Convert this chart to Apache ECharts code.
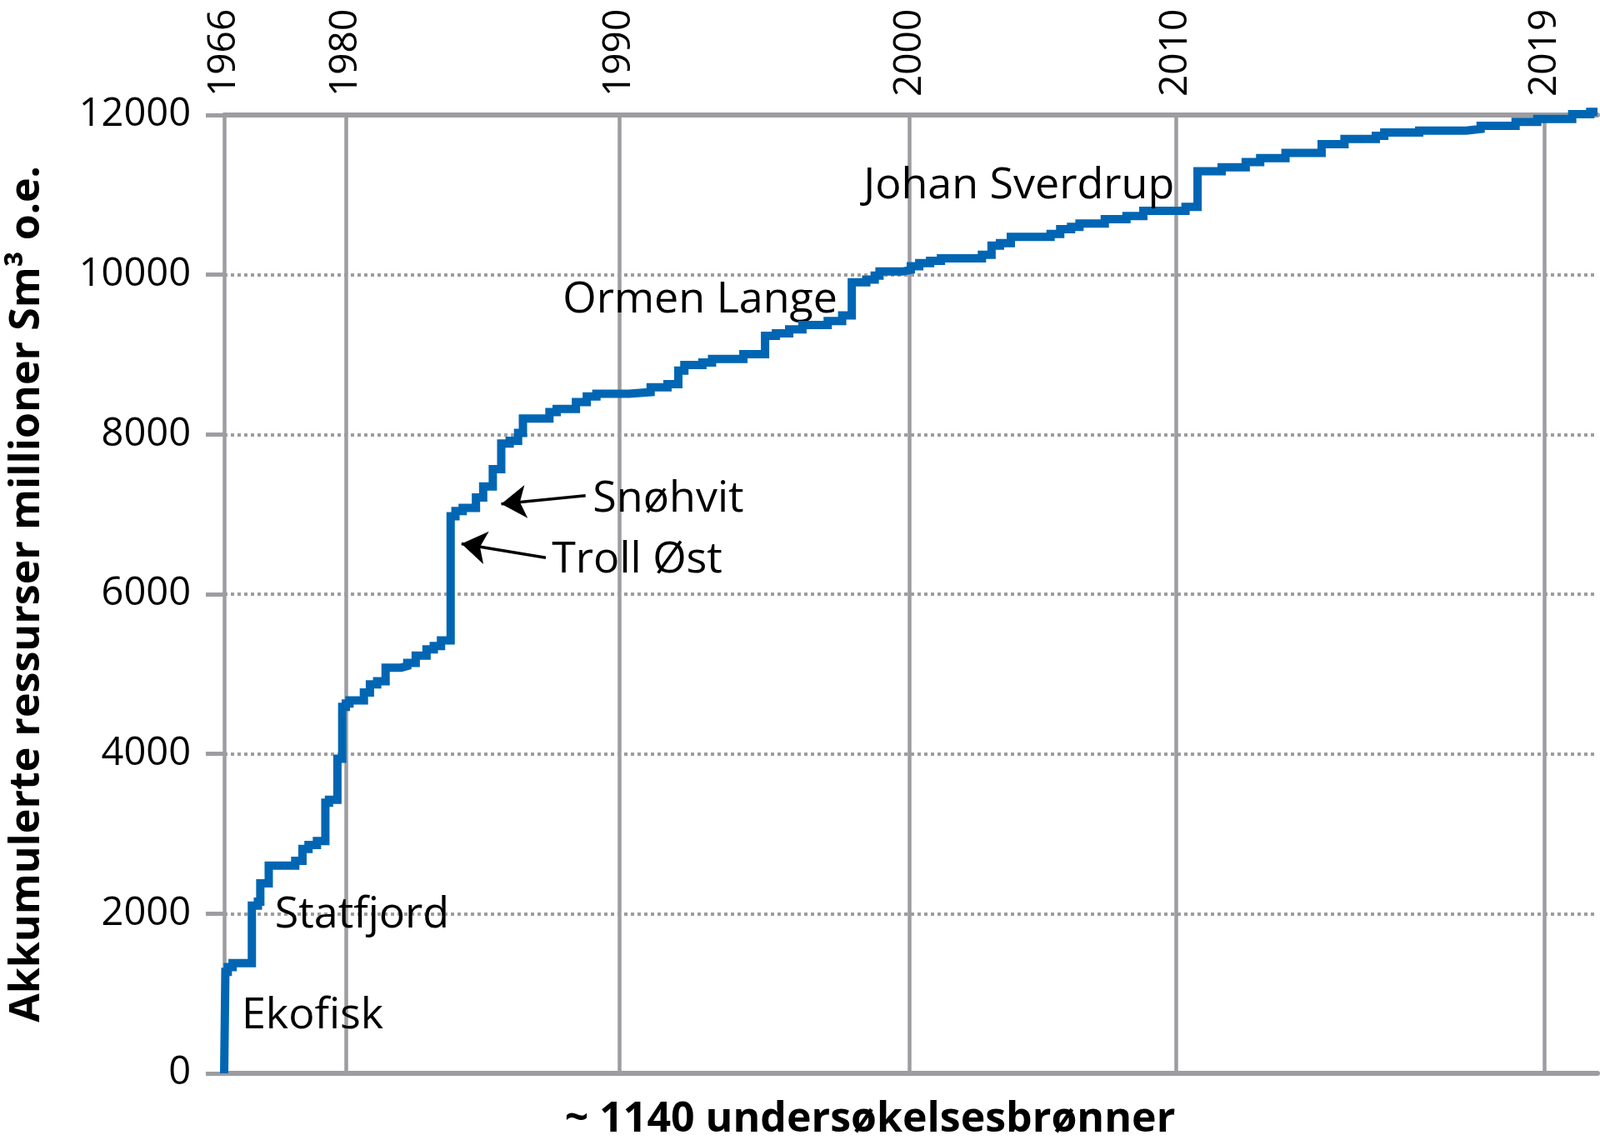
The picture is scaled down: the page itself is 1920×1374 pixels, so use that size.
<!DOCTYPE html>
<html><head><meta charset="utf-8">
<script src="https://cdn.jsdelivr.net/npm/echarts@6/dist/echarts.min.js"></script>
<style>html,body{margin:0;padding:0;background:#fff}#c{width:1920px;height:1374px}</style>
</head><body><div id="c"></div>
<script>
// Exploration well number (cumulative) at which each step occurs
const wells = [0,1,3,7,23,28,30,37,59,65,70,77,84,87,94,98,101,104,116,121,127,134,147,152,159,168,174,180,
  188,192,198,209,215,223,230,237,244,248,270,276,292,301,309,336,354,368,377,382,397,405,431,449,458,469,480,501,513,
  521,533,540,544,563,570,577,586,595,629,637,644,653,686,694,703,710,731,749,763,798,
  808,828,848,860,881,911,930,956,963,992,1031,1043,1072,1090,1119,1134,1140];
// Accumulated resources (million Sm3 o.e.) after that well
const resources = [0,1270,1330,1380,2100,2150,2380,2600,2660,2810,2860,2910,3390,3425,3940,4590,4630,4670,4770,4870,4910,5080,5100,5140,5230,5310,5350,5420,
  6975,7040,7080,7210,7350,7565,7885,7920,8020,8200,8280,8320,8405,8475,8510,8530,8590,8630,8800,8870,8900,8945,9005,9235,9265,9315,9370,9420,9490,
  9905,9940,9990,10040,10060,10105,10145,10175,10205,10250,10365,10395,10475,10510,10570,10600,10640,10695,10735,10800,10850,
  11295,11345,11410,11460,11525,11635,11700,11740,11780,11805,11825,11865,11915,11950,12010,12040,12040];

const yearWells = [0,101,328,569,790,1096];
const yearLabels = ['1966','1980','1990','2000','2010','2019'];

const labelNames  = ['Ekofisk','Statfjord','Troll Øst','Snøhvit','Ormen Lange','Johan Sverdrup'];
const labelWells  = [14.5, 42, 272, 306, 281, 530];
const labelValues = [720, 1980, 6430, 7190, 9680, 11110];

const arrowFromWells  = [300, 267];
const arrowFromValues = [7233, 6456];
const arrowToWells    = [230, 197];
const arrowToValues   = [7130, 6632];

const GRAY = '#9d9da1';
const FONT = "'Open Sans', sans-serif";

const chart = echarts.init(document.getElementById('c'), null, {renderer:'canvas'});
const option = {
  animation: false,
  backgroundColor: '#fff',
  grid: {left: 263, right: 3, top: 138, bottom: 78, containLabel: false},
  xAxis: [{
    type: 'value', position: 'bottom', min: 0, max: 1140,
    axisLine: {show: true, lineStyle: {color: GRAY, width: 6}},
    axisTick: {show: false}, axisLabel: {show: false}, splitLine: {show: false},
    name: '~ 1140 undersøkelsesbrønner', nameLocation: 'middle', nameGap: 31,
    nameTextStyle: {fontFamily: FONT, fontWeight: 'bold', fontSize: 50, color: '#000', padding: [0, 98, 0, 0], verticalAlign: 'top'}
  }, {
    type: 'value', position: 'top', min: 0, max: 1140,
    axisLine: {show: true, lineStyle: {color: GRAY, width: 6}},
    axisTick: {show: false, customValues: yearWells},
    axisLabel: {show: true, customValues: yearWells, rotate: -90, margin: 22,
      fontFamily: FONT, fontSize: 46, color: '#000',
      formatter: v => yearLabels[yearWells.indexOf(Math.round(v))] || ''},
    splitLine: {show: true, lineStyle: {color: GRAY, width: 4.5, type: 'solid'}}
  }],
  yAxis: {
    type: 'value', min: 0, max: 12000, interval: 2000,
    axisLine: {show: false},
    axisTick: {show: true, inside: false, length: 22, lineStyle: {color: GRAY, width: 5}},
    axisLabel: {margin: 40, fontFamily: FONT, fontSize: 47, color: '#000', formatter: v => String(v)},
    splitLine: {show: true, lineStyle: {color: GRAY, width: 4, type: [4, 4]}},
    name: 'Akkumulerte ressurser millioner Sm³ o.e.', nameLocation: 'middle', nameGap: 211, nameRotate: 90,
    nameTextStyle: {fontFamily: FONT, fontWeight: 'bold', fontSize: 50, color: '#000'}
  },
  series: [{
    type: 'line', xAxisIndex: 0, yAxisIndex: 0, step: 'end', clip: false,
    showSymbol: false, symbol: 'none',
    data: wells.map((w, i) => [w, resources[i]]),
    lineStyle: {color: '#0066b3', width: 10, join: 'miter', cap: 'butt'},
    z: 5,
    markPoint: {
      symbol: 'circle', symbolSize: 0, itemStyle: {color: 'rgba(0,0,0,0)'},
      label: {show: true, position: 'right', distance: 0, fontFamily: FONT, fontSize: 52, color: '#000',
        formatter: p => p.name},
      data: labelNames.map((n, i) => ({name: n, coord: [labelWells[i], labelValues[i]]}))
    },
    markLine: {
      silent: true, symbol: ['none', 'arrow'], symbolSize: 30,
      label: {show: false},
      lineStyle: {color: '#000', width: 3.5, type: 'solid'},
      emphasis: {disabled: true},
      data: arrowFromWells.map((w, i) => [
        {coord: [w, arrowFromValues[i]]},
        {coord: [arrowToWells[i], arrowToValues[i]]}
      ])
    }
  }]
};
chart.setOption(option);
</script>
</body></html>
